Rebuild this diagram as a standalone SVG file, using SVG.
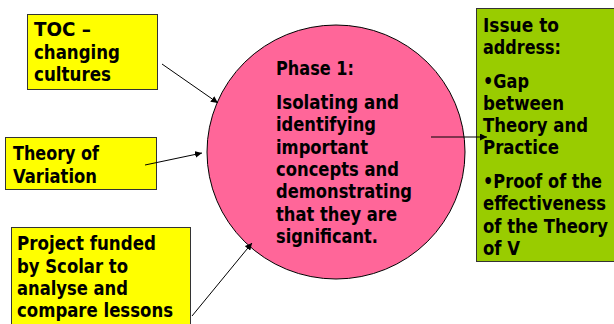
<svg xmlns="http://www.w3.org/2000/svg" width="614" height="324" viewBox="0 0 614 324">
<style>
.t{font-family:"DejaVu Sans","Liberation Sans",sans-serif;font-weight:bold;font-size:19px;fill:#000}
.box{stroke:#333;stroke-width:1}
.c{stroke:#000;stroke-width:1;fill:none}
</style>
<defs>
<marker id="ah" viewBox="0 0 10 10" refX="10" refY="5" markerWidth="7" markerHeight="7" markerUnits="userSpaceOnUse" orient="auto">
<path d="M0,0 L10,5 L0,10 z" fill="#000"/>
</marker>
</defs>
<rect width="614" height="324" fill="#fff"/>
<g id="phase1">
<ellipse cx="336" cy="152" rx="129" ry="127" fill="#FF6699" stroke="#000" stroke-width="1"/>
<text class="t" x="276" y="75" textLength="78" lengthAdjust="spacingAndGlyphs">Phase 1:</text>
<text class="t" x="276" y="109" textLength="123" lengthAdjust="spacingAndGlyphs">Isolating and</text>
<text class="t" x="276" y="131" textLength="100" lengthAdjust="spacingAndGlyphs">identifying</text>
<text class="t" x="276" y="153.5" textLength="92" lengthAdjust="spacingAndGlyphs">important</text>
<text class="t" x="276" y="176" textLength="123" lengthAdjust="spacingAndGlyphs">concepts and</text>
<text class="t" x="276" y="198" textLength="136" lengthAdjust="spacingAndGlyphs">demonstrating</text>
<text class="t" x="276" y="220.5" textLength="121" lengthAdjust="spacingAndGlyphs">that they are</text>
<text class="t" x="276" y="243" textLength="102" lengthAdjust="spacingAndGlyphs">significant.</text>
</g>
<g id="toc">
<rect class="box" x="27.5" y="14.5" width="130" height="75" fill="#FFFF00"/>
<text class="t" x="34" y="36" textLength="57" lengthAdjust="spacingAndGlyphs">TOC –</text>
<text class="t" x="34" y="58.5" textLength="86" lengthAdjust="spacingAndGlyphs">changing</text>
<text class="t" x="34" y="81" textLength="77" lengthAdjust="spacingAndGlyphs">cultures</text>
</g>
<g id="variation">
<rect class="box" x="5.5" y="137.5" width="151" height="52" fill="#FFFF00"/>
<text class="t" x="13" y="160" textLength="86" lengthAdjust="spacingAndGlyphs">Theory of</text>
<text class="t" x="13" y="183" textLength="84" lengthAdjust="spacingAndGlyphs">Variation</text>
</g>
<g id="project">
<rect class="box" x="11.5" y="227.5" width="179" height="110" fill="#FFFF00"/>
<text class="t" x="17" y="250" textLength="139" lengthAdjust="spacingAndGlyphs">Project funded</text>
<text class="t" x="17" y="272.5" textLength="111" lengthAdjust="spacingAndGlyphs">by Scolar to</text>
<text class="t" x="17" y="295" textLength="111" lengthAdjust="spacingAndGlyphs">analyse and</text>
<text class="t" x="17" y="317" textLength="156" lengthAdjust="spacingAndGlyphs">compare lessons</text>
</g>
<g id="issue">
<rect class="box" x="476.5" y="8.5" width="150" height="253" fill="#99CC00"/>
<text class="t" x="483" y="32" textLength="76" lengthAdjust="spacingAndGlyphs">Issue to</text>
<text class="t" x="483" y="53.5" textLength="78" lengthAdjust="spacingAndGlyphs">address:</text>
<text class="t" x="483" y="88" textLength="46" lengthAdjust="spacingAndGlyphs">•Gap</text>
<text class="t" x="483" y="110" textLength="81" lengthAdjust="spacingAndGlyphs">between</text>
<text class="t" x="483" y="132" textLength="105" lengthAdjust="spacingAndGlyphs">Theory and</text>
<text class="t" x="483" y="154" textLength="76" lengthAdjust="spacingAndGlyphs">Practice</text>
<text class="t" x="483" y="188" textLength="119" lengthAdjust="spacingAndGlyphs">•Proof of the</text>
<text class="t" x="483" y="210" textLength="123" lengthAdjust="spacingAndGlyphs">effectiveness</text>
<text class="t" x="483" y="233" textLength="125" lengthAdjust="spacingAndGlyphs">of the Theory</text>
<text class="t" x="483" y="255" textLength="37" lengthAdjust="spacingAndGlyphs">of V</text>
</g>
<g id="connectors">
<line class="c" x1="162" y1="64" x2="218" y2="103" marker-end="url(#ah)"/>
<line class="c" x1="145" y1="165" x2="202" y2="153" marker-end="url(#ah)"/>
<line class="c" x1="192" y1="316" x2="252" y2="243" marker-end="url(#ah)"/>
<line class="c" x1="431" y1="137" x2="487" y2="137" marker-end="url(#ah)"/>
</g>
</svg>
